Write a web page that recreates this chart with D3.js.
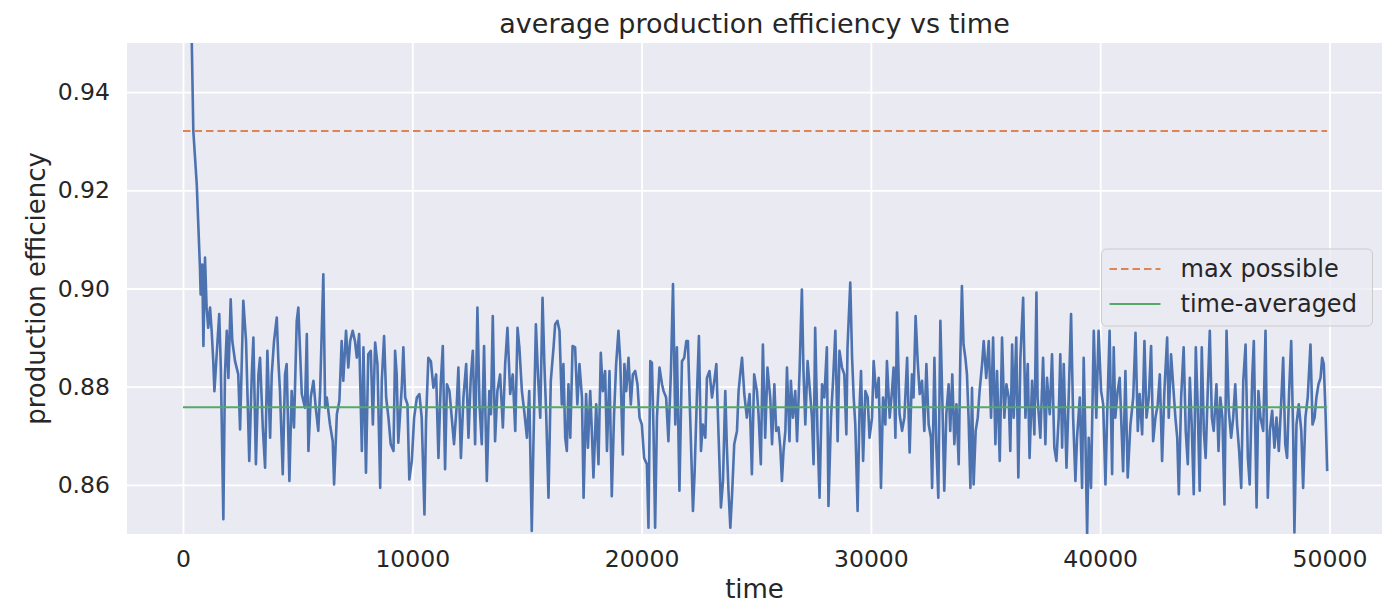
<!DOCTYPE html>
<html>
<head>
<meta charset="utf-8">
<script src="https://cdn.jsdelivr.net/npm/d3@7"></script>
<style>
  body { margin: 0; background: #fff; }
  text { font-family: "DejaVu Sans", sans-serif; fill: #262626; }
</style>
</head>
<body>
<svg id="chart" width="1383" height="607"></svg>
<script>
// time axis values
const times = [
  0, 380, 450, 600, 740, 770, 840, 890, 960, 1030,
  1100, 1180, 1250, 1320, 1370, 1470, 1580, 1650, 1760, 1830,
  1910, 1980, 2080, 2150, 2270, 2410, 2490, 2630, 2750, 2890,
  3000, 3070, 3180, 3290, 3360, 3480, 3580, 3680, 3800, 3870,
  3970, 4090, 4160, 4230, 4350, 4450, 4520, 4640, 4740, 4840,
  4960, 5030, 5180, 5320, 5400, 5470, 5570, 5690, 5790, 5900,
  5980, 6120, 6200, 6270, 6410, 6530, 6590, 6710, 6820, 6920,
  6990, 7110, 7210, 7290, 7400, 7500, 7580, 7680, 7800, 7870,
  7980, 8080, 8190, 8280, 8380, 8480, 8600, 8670, 8770, 8860,
  8960, 9060, 9180, 9250, 9320, 9390, 9540, 9610, 9690, 9790,
  9870, 9980, 10080, 10200, 10310, 10410, 10530, 10600, 10700, 10810,
  10920, 11040, 11140, 11240, 11330, 11430, 11510, 11620, 11720, 11820,
  11940, 12010, 12120, 12230, 12350, 12450, 12550, 12640, 12740, 12840,
  12930, 13030, 13130, 13250, 13360, 13430, 13510, 13610, 13710, 13830,
  13950, 14050, 14150, 14270, 14380, 14490, 14590, 14670, 14780, 14880,
  15000, 15100, 15210, 15280, 15390, 15480, 15580, 15680, 15760, 15840,
  15940, 16040, 16160, 16230, 16330, 16420, 16520, 16590, 16670, 16740,
  16810, 16890, 16990, 17100, 17200, 17290, 17400, 17470, 17580, 17660,
  17760, 17830, 17900, 18020, 18120, 18220, 18310, 18410, 18490, 18600,
  18700, 18800, 18890, 18990, 19070, 19180, 19250, 19330, 19430, 19530,
  19620, 19720, 19820, 19910, 20010, 20110, 20230, 20300, 20380, 20450,
  20520, 20590, 20670, 20780, 20890, 20960, 21070, 21170, 21280, 21370,
  21470, 21540, 21650, 21760, 21860, 21950, 22020, 22120, 22240, 22310,
  22410, 22500, 22590, 22670, 22780, 22850, 22960, 23070, 23170, 23260,
  23360, 23460, 23550, 23650, 23720, 23790, 23870, 23940, 24040, 24160,
  24230, 24300, 24380, 24480, 24590, 24710, 24810, 24910, 25030, 25100,
  25200, 25290, 25390, 25490, 25610, 25690, 25790, 25870, 25970, 26050,
  26120, 26190, 26270, 26340, 26450, 26510, 26600, 26700, 26780, 26890,
  26990, 27060, 27140, 27240, 27330, 27430, 27500, 27570, 27670, 27760,
  27870, 27970, 28080, 28150, 28260, 28350, 28450, 28550, 28630, 28740,
  28840, 28930, 28980, 29100, 29180, 29250, 29320, 29420, 29510, 29570,
  29660, 29760, 29860, 29940, 30050, 30120, 30240, 30340, 30440, 30530,
  30630, 30700, 30820, 30920, 30990, 31070, 31140, 31250, 31360, 31460,
  31580, 31690, 31790, 31860, 31950, 32040, 32130, 32230, 32330, 32420,
  32520, 32620, 32670, 32770, 32850, 32940, 33030, 33120, 33200, 33290,
  33390, 33460, 33550, 33640, 33730, 33830, 33900, 33970, 34040, 34120,
  34190, 34260, 34340, 34410, 34480, 34570, 34660, 34740, 34850, 34920,
  35030, 35140, 35240, 35330, 35430, 35500, 35620, 35720, 35820, 35910,
  36010, 36080, 36160, 36230, 36340, 36430, 36520, 36640, 36740, 36840,
  36920, 37030, 37130, 37220, 37270, 37390, 37510, 37610, 37680, 37800,
  37900, 38000, 38090, 38190, 38260, 38340, 38410, 38530, 38630, 38730,
  38820, 38920, 38990, 39110, 39210, 39280, 39350, 39430, 39500, 39600,
  39720, 39830, 39930, 40040, 40130, 40230, 40300, 40410, 40520, 40590,
  40660, 40760, 40850, 41000, 41100, 41200, 41320, 41440, 41540, 41640,
  41720, 41830, 41930, 42020, 42120, 42220, 42310, 42410, 42510, 42600,
  42700, 42800, 42920, 42990, 43090, 43180, 43280, 43360, 43430, 43530,
  43640, 43730, 43820, 43910, 43990, 44080, 44170, 44250, 44340, 44430,
  44520, 44600, 44690, 44780, 44870, 44950, 45070, 45160, 45240, 45330,
  45420, 45510, 45610, 45710, 45800, 45890, 45970, 46060, 46150, 46240,
  46340, 46440, 46520, 46630, 46700, 46820, 46900, 46990, 47110, 47210,
  47310, 47400, 47500, 47600, 47690, 47790, 47890, 47980, 48070, 48150,
  48240, 48330, 48420, 48470, 48560, 48660, 48770, 48850, 48950, 49050,
  49170, 49260, 49350, 49430, 49520, 49610, 49680, 49750, 49830, 49900
]
// average production efficiency at each time
const efficiency = [
  1.0, 0.951, 0.9321, 0.9212, 0.9042, 0.8988, 0.9049, 0.8883, 0.9063, 0.8961,
  0.8920, 0.8961, 0.8914, 0.8852, 0.8791, 0.8866, 0.8948, 0.8839, 0.8530, 0.8825,
  0.8914, 0.8818, 0.8978, 0.8893, 0.8852, 0.8825, 0.8713, 0.8975, 0.8893, 0.8649,
  0.8825, 0.8900, 0.8642, 0.8825, 0.8859, 0.8717, 0.8635, 0.8873, 0.8696, 0.8825,
  0.8893, 0.8941, 0.8852, 0.8791, 0.8622, 0.8825, 0.8846, 0.8608, 0.8791, 0.8717,
  0.8934, 0.8961, 0.8785, 0.8757, 0.8907, 0.8669, 0.8778, 0.8812, 0.8757, 0.8710,
  0.8791, 0.9029, 0.8757, 0.8778, 0.8723, 0.8689, 0.8601, 0.8744, 0.8771, 0.8893,
  0.8812, 0.8914, 0.8839, 0.8893, 0.8914, 0.8893, 0.8859, 0.8907, 0.8669, 0.8880,
  0.8625, 0.8866, 0.8873, 0.8723, 0.8890, 0.8846, 0.8594, 0.8812, 0.8903, 0.8778,
  0.8737, 0.8683, 0.8669, 0.8873, 0.8825, 0.8686, 0.8798, 0.8880, 0.8778, 0.8764,
  0.8611, 0.8649, 0.8737, 0.8778, 0.8785, 0.8737, 0.8540, 0.8730, 0.8859, 0.8852,
  0.8798, 0.8825, 0.8655, 0.8805, 0.8883, 0.8632, 0.8805, 0.8791, 0.8737, 0.8683,
  0.8764, 0.8839, 0.8655, 0.8778, 0.8846, 0.8696, 0.8818, 0.8873, 0.8683, 0.8961,
  0.8764, 0.8683, 0.8883, 0.8608, 0.8791, 0.8744, 0.8944, 0.8689, 0.8791, 0.8825,
  0.8717, 0.8846, 0.8920, 0.8785, 0.8825, 0.8710, 0.8920, 0.8880, 0.8791, 0.8751,
  0.8696, 0.8791, 0.8506, 0.8676, 0.8927, 0.8825, 0.8737, 0.8981, 0.8846, 0.8744,
  0.8574, 0.8812, 0.8880, 0.8927, 0.8934, 0.8914, 0.8764, 0.8846, 0.8696, 0.8669,
  0.8805, 0.8696, 0.8883, 0.8880, 0.8764, 0.8846, 0.8778, 0.8574, 0.8785, 0.8676,
  0.8791, 0.8710, 0.8615, 0.8764, 0.8642, 0.8869, 0.8791, 0.8832, 0.8669, 0.8832,
  0.8577, 0.8744, 0.8846, 0.8914, 0.8852, 0.8662, 0.8846, 0.8791, 0.8859, 0.8764,
  0.8825, 0.8832, 0.8805, 0.8737, 0.8723, 0.8655, 0.8642, 0.8513, 0.8852, 0.8849,
  0.8710, 0.8513, 0.8737, 0.8839, 0.8805, 0.8791, 0.8778, 0.8689, 0.8832, 0.9009,
  0.8723, 0.8880, 0.8588, 0.8852, 0.8859, 0.8893, 0.8893, 0.8737, 0.8547, 0.8622,
  0.8778, 0.8903, 0.8669, 0.8723, 0.8696, 0.8818, 0.8832, 0.8778, 0.8812, 0.8846,
  0.8696, 0.8554, 0.8608, 0.8791, 0.8676, 0.8588, 0.8513, 0.8574, 0.8683, 0.8710,
  0.8791, 0.8825, 0.8859, 0.8785, 0.8737, 0.8785, 0.8622, 0.8825, 0.8791, 0.8744,
  0.8642, 0.8886, 0.8696, 0.8839, 0.8778, 0.8683, 0.8805, 0.8710, 0.8717, 0.8676,
  0.8608, 0.8669, 0.8710, 0.8839, 0.8689, 0.8812, 0.8737, 0.8791, 0.8689, 0.8832,
  0.8998, 0.8832, 0.8723, 0.8852, 0.8798, 0.8737, 0.8642, 0.8920, 0.8710, 0.8574,
  0.8805, 0.8778, 0.8880, 0.8557, 0.8737, 0.8812, 0.8914, 0.8689, 0.8873, 0.8839,
  0.8825, 0.8703, 0.8880, 0.9012, 0.8859, 0.8778, 0.8723, 0.8547, 0.8764, 0.8832,
  0.8649, 0.8791, 0.8778, 0.8696, 0.8737, 0.8852, 0.8778, 0.8818, 0.8594, 0.8778,
  0.8723, 0.8852, 0.8737, 0.8791, 0.8839, 0.8696, 0.8951, 0.8744, 0.8710, 0.8737,
  0.8859, 0.8666, 0.8825, 0.8778, 0.8944, 0.8852, 0.8785, 0.8812, 0.8710, 0.8846,
  0.8723, 0.8696, 0.8594, 0.8859, 0.8683, 0.8574, 0.8934, 0.8764, 0.8588, 0.8744,
  0.8805, 0.8710, 0.8825, 0.8683, 0.8764, 0.8642, 0.8859, 0.9005, 0.8886, 0.8859,
  0.8825, 0.8737, 0.8594, 0.8798, 0.8601, 0.8710, 0.8737, 0.8791, 0.8846, 0.8893,
  0.8818, 0.8893, 0.8737, 0.8900, 0.8683, 0.8832, 0.8649, 0.8900, 0.8737, 0.8805,
  0.8778, 0.8669, 0.8886, 0.8737, 0.8900, 0.8615, 0.8859, 0.8981, 0.8737, 0.8846,
  0.8655, 0.8812, 0.8703, 0.8992, 0.8778, 0.8696, 0.8859, 0.8683, 0.8818, 0.8744,
  0.8866, 0.8676, 0.8649, 0.8737, 0.8866, 0.8676, 0.8846, 0.8635, 0.8785, 0.8948,
  0.8737, 0.8608, 0.8696, 0.8778, 0.8594, 0.8859, 0.8710, 0.8499, 0.8696, 0.8594,
  0.8914, 0.8737, 0.8914, 0.8791, 0.8764, 0.8601, 0.8737, 0.8914, 0.8622, 0.8880,
  0.8737, 0.8791, 0.8818, 0.8628, 0.8832, 0.8615, 0.8723, 0.8778, 0.8910, 0.8710,
  0.8785, 0.8703, 0.8893, 0.8737, 0.8778, 0.8883, 0.8689, 0.8737, 0.8764, 0.8825,
  0.8649, 0.8791, 0.8900, 0.8737, 0.8866, 0.8805, 0.8737, 0.8696, 0.8581, 0.8778,
  0.8880, 0.8710, 0.8642, 0.8818, 0.8723, 0.8581, 0.8880, 0.8764, 0.8588, 0.8880,
  0.8710, 0.8655, 0.8791, 0.8914, 0.8737, 0.8710, 0.8805, 0.8669, 0.8778, 0.8737,
  0.8560, 0.8914, 0.8751, 0.8696, 0.8737, 0.8805, 0.8723, 0.8669, 0.8594, 0.8812,
  0.8886, 0.8655, 0.8601, 0.8818, 0.8893, 0.8554, 0.8791, 0.8737, 0.8710, 0.8914,
  0.8574, 0.8710, 0.8751, 0.8676, 0.8737, 0.8669, 0.8764, 0.8859, 0.8683, 0.8655,
  0.8791, 0.8893, 0.8696, 0.8503, 0.8723, 0.8764, 0.8710, 0.8594, 0.8737, 0.8778,
  0.8886, 0.8723, 0.8737, 0.8778, 0.8805, 0.8818, 0.8859, 0.8846, 0.8744, 0.8628
]
const maxPossible = 0.9321
const timeAveraged = 0.8758
const xTicks = [0, 10000, 20000, 30000, 40000, 50000]
const yTicks = [0.86, 0.88, 0.90, 0.92, 0.94]
const legendLabels = ['max possible', 'time-averaged']

const svg = d3.select('#chart')
const mLeft = 127, mTop = 43, plotW = 1255, plotH = 491

const x = d3.scaleLinear().domain([-2442, 52290]).range([mLeft, mLeft + plotW])
const y = d3.scaleLinear().domain([0.85, 0.95]).range([mTop + plotH, mTop])

//background
svg.append('rect')
    .attr('x', mLeft).attr('y', mTop)
    .attr('width', plotW).attr('height', plotH)
    .attr('fill', '#eaeaf2')

svg.append('clipPath').attr('id', 'plotclip')
    .append('rect')
    .attr('x', mLeft).attr('y', mTop)
    .attr('width', plotW).attr('height', plotH)

//grid + tick labels
const gx = svg.append('g')
    .attr('transform', `translate(0,${mTop + plotH})`)
    .call(d3.axisBottom(x).tickValues(xTicks).tickFormat(d3.format('d'))
        .tickSize(-plotH).tickPadding(16))
const gy = svg.append('g')
    .attr('transform', `translate(${mLeft},0)`)
    .call(d3.axisLeft(y).tickValues(yTicks).tickFormat(d3.format('.2f'))
        .tickSize(-plotW).tickPadding(17))

;[gx, gy].forEach(g => {
    g.select('.domain').remove()
    g.selectAll('.tick line').attr('stroke', '#fff').attr('stroke-width', 1.8)
    g.selectAll('.tick text')
        .attr('fill', '#333')
        .style('font-size', '23.5px')
        .style('font-family', '"DejaVu Sans", sans-serif')
})

const plot = svg.append('g').attr('clip-path', 'url(#plotclip)')

const series = times.map((t, i) => ({t, v: efficiency[i]}))
const line = d3.line().x(d => x(d.t)).y(d => y(d.v))

plot.append('path')
    .datum(series)
    .attr('fill', 'none')
    .attr('stroke', '#4c72b0')
    .attr('stroke-width', 2.6)
    .attr('stroke-linejoin', 'round')
    .attr('d', line)

const tStart = times[0], tEnd = times[times.length - 1]
plot.append('line')
    .attr('x1', x(tStart)).attr('x2', x(tEnd))
    .attr('y1', y(maxPossible)).attr('y2', y(maxPossible))
    .attr('stroke', '#dd8452').attr('stroke-width', 2)
    .attr('stroke-dasharray', '7.5,4')
plot.append('line')
    .attr('x1', x(tStart)).attr('x2', x(tEnd))
    .attr('y1', y(timeAveraged)).attr('y2', y(timeAveraged))
    .attr('stroke', '#55a868').attr('stroke-width', 2)

//legend
const lg = svg.append('g').attr('transform', 'translate(1101.5,249)')
lg.append('rect')
    .attr('width', 271).attr('height', 77).attr('rx', 5)
    .attr('fill', '#eaeaf2').attr('fill-opacity', 0.8)
    .attr('stroke', '#cccccc').attr('stroke-width', 1)
legendLabels.forEach((label, i) => {
    const yy = 20 + i * 35
    lg.append('line')
        .attr('x1', 8).attr('x2', 59).attr('y1', yy).attr('y2', yy)
        .attr('stroke', i ? '#55a868' : '#dd8452')
        .attr('stroke-width', 2)
        .attr('stroke-dasharray', i ? null : '7.5,4')
    lg.append('text')
        .attr('x', 79).attr('y', yy)
        .attr('dy', '0.35em')
        .style('font-size', '24px')
        .text(label)
})

//title and axis labels
svg.append('text')
    .attr('x', mLeft + plotW / 2).attr('y', 33)
    .attr('text-anchor', 'middle')
    .style('font-size', '27px')
    .text('average production efficiency vs time')
svg.append('text')
    .attr('x', mLeft + plotW / 2).attr('y', 598)
    .attr('text-anchor', 'middle')
    .style('font-size', '26px')
    .text('time')
svg.append('text')
    .attr('transform', `translate(45,${mTop + plotH / 2}) rotate(-90)`)
    .attr('text-anchor', 'middle')
    .style('font-size', '26px')
    .text('production efficiency')
</script>
</body>
</html>
